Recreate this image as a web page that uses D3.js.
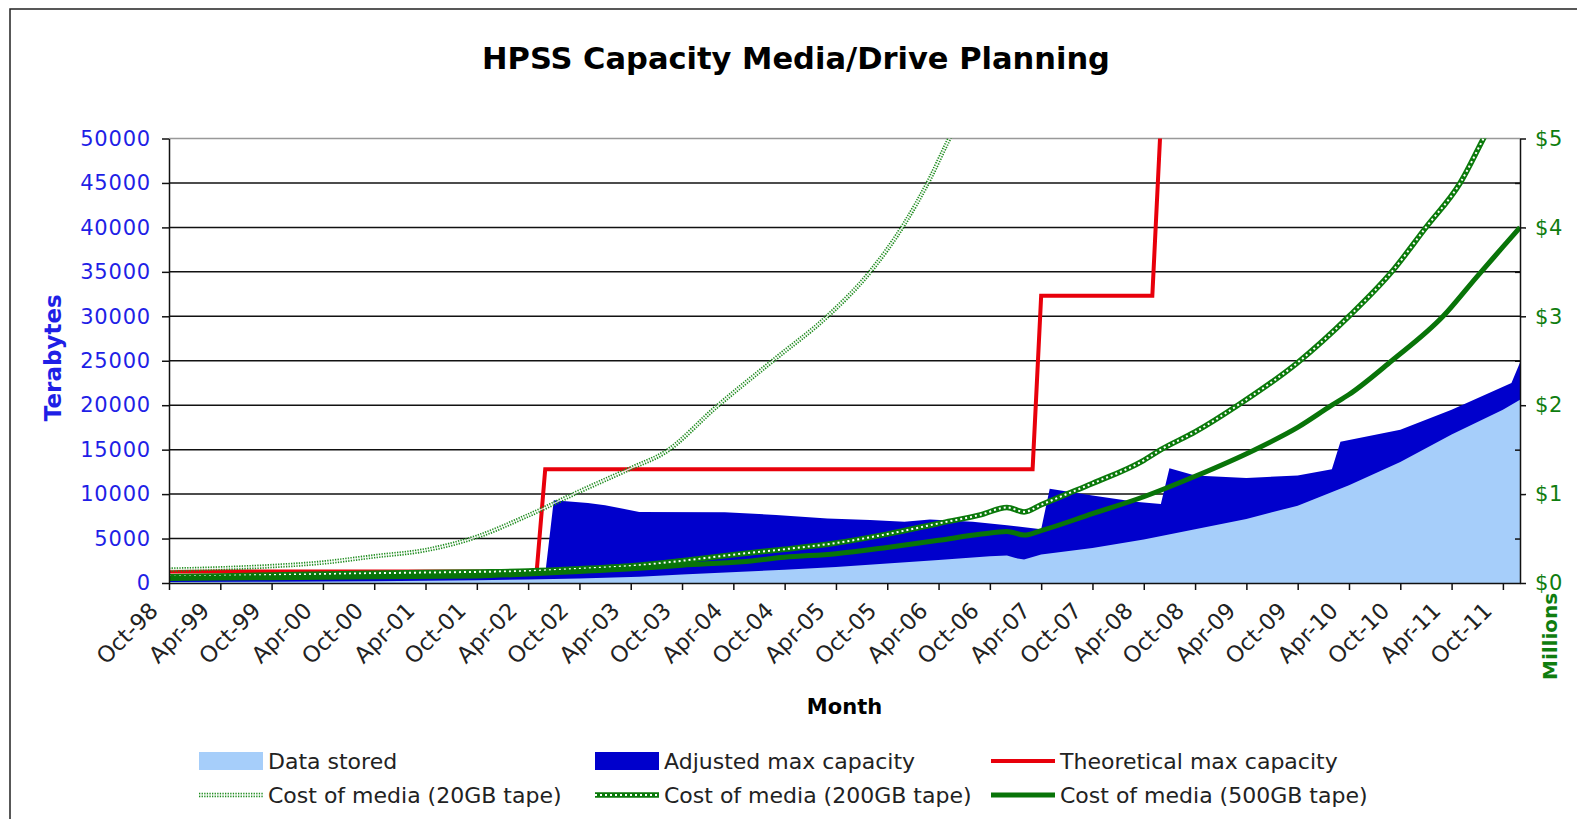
<!DOCTYPE html>
<html>
<head>
<meta charset="utf-8">
<script src="https://cdn.jsdelivr.net/npm/d3@7"></script>
<style>
  body { margin: 0; background: #fff; }
  svg { display: block; }
  svg text { font-family: 'DejaVu Sans', Verdana, sans-serif; }
</style>
</head>
<body>
<div id="chart"></div>
<script>
const WIDTH = 1577;
const HEIGHT = 819;
const LEFT = 169;
const RIGHT = 1520;
const TOP = 138.5;
const BOTTOM = 583;
const LAST_MONTH = 158;

// month index 0 = Oct-98, one point per month up to Dec-11
const tickLabels = [
  'Oct-98', 'Apr-99', 'Oct-99', 'Apr-00', 'Oct-00', 'Apr-01', 'Oct-01',
  'Apr-02', 'Oct-02', 'Apr-03', 'Oct-03', 'Apr-04', 'Oct-04', 'Apr-05',
  'Oct-05', 'Apr-06', 'Oct-06', 'Apr-07', 'Oct-07', 'Apr-08', 'Oct-08',
  'Apr-09', 'Oct-09', 'Apr-10', 'Oct-10', 'Apr-11', 'Oct-11'
];
const tickMonths = [0, 6, 12, 18, 24, 30, 36, 42, 48, 54, 60, 66, 72, 78,
  84, 90, 96, 102, 108, 114, 120, 126, 132, 138, 144, 150, 156];
const terabyteTicks = [0, 5000, 10000, 15000, 20000, 25000, 30000, 35000, 40000, 45000, 50000];
const dollarTicks = [0, 1, 2, 3, 4, 5];
const dollarMinorTicks = [0.5, 1.5, 2.5, 3.5, 4.5];

// terabytes, [month, value]
const dataStored = [[0, 100], [12, 150], [24, 200], [36, 300], [42, 400], [48, 500],
  [55, 700], [60, 950], [67, 1270], [72, 1500], [78, 1800], [84, 2200], [90, 2600],
  [96, 3000], [98, 3100], [99, 2800], [100, 2650], [102, 3200], [108, 3950],
  [114, 4900], [120, 6050], [126, 7200], [132, 8700], [138, 11000], [144, 13600],
  [150, 16700], [156, 19500], [158, 20600]];

const adjustedMax = [[0, 800], [44, 1000], [45, 9300], [49, 9000], [51, 8750],
  [55, 8000], [65, 7950], [71, 7650], [77, 7250], [82, 7100], [86, 6900], [89, 7150],
  [94, 6900], [98, 6500], [102, 6050], [103, 10600], [108, 9850], [113, 9150],
  [116, 8900], [117, 12900], [120, 12100], [126, 11800], [132, 12100], [136, 12800],
  [137, 15900], [144, 17250], [150, 19500], [157, 22500], [158, 24800]];

const theoreticalMax = [[0, 1300], [43, 1300], [44, 12800], [101, 12800],
  [102, 32300], [115, 32300], [116, 52000], [158, 52000]];

// millions of dollars, [month, value]
const cost20GB = [[0, 0.15], [6, 0.165], [12, 0.19], [18, 0.23], [24, 0.30],
  [30, 0.37], [36, 0.52], [42, 0.76], [48, 1.03], [54, 1.29], [58, 1.47], [64, 1.98],
  [71, 2.53], [77, 3.0], [82, 3.5], [86, 4.04], [89, 4.55], [91, 4.95], [94, 5.5]];

const cost200GB = [[0, 0.07], [12, 0.09], [24, 0.11], [36, 0.125], [42, 0.135],
  [48, 0.16], [55, 0.20], [60, 0.25], [67, 0.33], [72, 0.38], [78, 0.45], [84, 0.55],
  [90, 0.67], [95, 0.77], [98, 0.85], [100, 0.80], [102, 0.88], [105, 1.0], [108, 1.12],
  [114, 1.38], [116, 1.5], [120, 1.7], [125, 2.0], [132, 2.48], [138, 3.0], [143, 3.5],
  [147, 4.0], [151, 4.5], [154, 5.05], [156, 5.4]];

const cost500GB = [[0, 0.05], [12, 0.06], [24, 0.07], [36, 0.08], [42, 0.10],
  [48, 0.13], [55, 0.165], [60, 0.2], [67, 0.24], [72, 0.29], [78, 0.33], [84, 0.40],
  [90, 0.48], [95, 0.55], [98, 0.58], [100, 0.54], [102, 0.59], [108, 0.78],
  [114, 0.97], [120, 1.2], [127, 1.5], [132, 1.75], [136, 2.0], [138, 2.12],
  [143, 2.5], [149, 3.0], [153, 3.45], [156, 3.78], [158, 4.0]];

const legendRows = [
  ['Data stored', 'Adjusted max capacity', 'Theoretical max capacity'],
  ['Cost of media (20GB tape)', 'Cost of media (200GB tape)', 'Cost of media (500GB tape)']
];

const COLORS = {
  stored: '#a6cefa',
  adjusted: '#0000cc',
  theoretical: '#e8000b',
  cost20: '#1f8c1f',
  cost200: '#0b7a0b',
  cost500: '#087408',
  leftText: '#1f1fe6',
  rightText: '#0f7d0f'
};

let svg, x, yLeft, yRight;

function buildScales() {
  x = d3.scaleLinear().domain([0, LAST_MONTH]).range([LEFT, RIGHT]);
  yLeft = d3.scaleLinear().domain([0, 50000]).range([BOTTOM, TOP]);
  yRight = d3.scaleLinear().domain([0, 5]).range([BOTTOM, TOP]);
}

function drawFrame() {
  svg.append('rect')
    .attr('x', 10).attr('y', 9)
    .attr('width', 1620).attr('height', 900)
    .attr('fill', 'none')
    .attr('stroke', '#222')
    .attr('stroke-width', 1.5);

  svg.append('text')
    .attr('x', 796).attr('y', 69)
    .attr('text-anchor', 'middle')
    .style('font-size', '30.5px')
    .style('font-weight', 'bold')
    .text('HPSS Capacity Media/Drive Planning');
}

function drawGrid() {
  svg.append('g')
    .attr('class', 'grid')
    .selectAll('line')
    .data(terabyteTicks.filter((t) => t > 0))
    .enter()
    .append('line')
    .attr('x1', LEFT).attr('x2', RIGHT)
    .attr('y1', (d) => yLeft(d)).attr('y2', (d) => yLeft(d))
    .attr('stroke', (d) => d === 50000 ? '#999' : '#111')
    .attr('stroke-width', 1.5);
}

function drawSeries() {
  svg.append('clipPath')
    .attr('id', 'plotClip')
    .append('rect')
    .attr('x', LEFT).attr('y', TOP)
    .attr('width', RIGHT - LEFT).attr('height', BOTTOM - TOP);

  let plot = svg.append('g').attr('clip-path', 'url(#plotClip)');

  let area = d3.area()
    .x((d) => x(d[0]))
    .y0(yLeft(0))
    .y1((d) => yLeft(d[1]));

  plot.append('path').datum(adjustedMax)
    .attr('d', area).attr('fill', COLORS.adjusted);
  plot.append('path').datum(dataStored)
    .attr('d', area).attr('fill', COLORS.stored);

  let leftLine = d3.line().x((d) => x(d[0])).y((d) => yLeft(d[1]));
  let rightLine = d3.line()
    .x((d) => x(d[0])).y((d) => yRight(d[1]))
    .curve(d3.curveMonotoneX);

  plot.append('path').datum(theoreticalMax)
    .attr('d', leftLine)
    .attr('fill', 'none')
    .attr('stroke', COLORS.theoretical)
    .attr('stroke-width', 4);

  // 20GB: thin double row of dots
  plot.append('path').datum(cost20GB)
    .attr('d', rightLine)
    .attr('fill', 'none')
    .attr('stroke', COLORS.cost20)
    .attr('stroke-width', 4.5)
    .attr('stroke-dasharray', '1.3,1.3');
  plot.append('path').datum(cost20GB)
    .attr('d', rightLine)
    .attr('fill', 'none')
    .attr('stroke', '#fff')
    .attr('stroke-width', 1.3)
    .attr('opacity', 0.8);

  // 200GB: thick with hollow markers
  plot.append('path').datum(cost200GB)
    .attr('d', rightLine)
    .attr('fill', 'none')
    .attr('stroke', COLORS.cost200)
    .attr('stroke-width', 5.5);
  plot.append('path').datum(cost200GB)
    .attr('d', rightLine)
    .attr('fill', 'none')
    .attr('stroke', '#fff')
    .attr('stroke-width', 2)
    .attr('stroke-dasharray', '2,3');

  plot.append('path').datum(cost500GB)
    .attr('d', rightLine)
    .attr('fill', 'none')
    .attr('stroke', COLORS.cost500)
    .attr('stroke-width', 5);
}

function styleAxis(g) {
  g.selectAll('path, line')
    .attr('stroke', '#111')
    .attr('stroke-width', 1.5);
}

function drawAxes() {
  let leftAxis = d3.axisLeft(yLeft)
    .tickValues(terabyteTicks)
    .tickFormat(d3.format('d'))
    .tickSize(7)
    .tickSizeOuter(0)
    .tickPadding(11);

  let gl = svg.append('g')
    .attr('class', 'leftAxis')
    .attr('transform', `translate(${LEFT}, 0)`)
    .call(leftAxis);
  styleAxis(gl);
  gl.selectAll('text')
    .attr('fill', COLORS.leftText)
    .style('font-size', '21px')
    .style('letter-spacing', '0.8px');

  let rightAxis = d3.axisRight(yRight)
    .tickValues(dollarTicks)
    .tickFormat((d) => '$' + d)
    .tickSize(6)
    .tickSizeOuter(0)
    .tickPadding(9);

  let gr = svg.append('g')
    .attr('class', 'rightAxis')
    .attr('transform', `translate(${RIGHT}, 0)`)
    .call(rightAxis);
  styleAxis(gr);
  gr.selectAll('text')
    .attr('fill', COLORS.rightText)
    .style('font-size', '21px')
    .style('letter-spacing', '0.6px');

  let minor = svg.append('g')
    .attr('transform', `translate(${RIGHT}, 0)`)
    .call(d3.axisRight(yRight).tickValues(dollarMinorTicks).tickSize(-5).tickSizeOuter(0).tickFormat(''));
  styleAxis(minor);
  minor.select('.domain').remove();

  let bottomAxis = d3.axisBottom(x)
    .tickValues(tickMonths)
    .tickFormat((d, i) => tickLabels[i])
    .tickSize(7)
    .tickSizeOuter(0);

  let gb = svg.append('g')
    .attr('class', 'bottomAxis')
    .attr('transform', `translate(0, ${BOTTOM})`)
    .call(bottomAxis);
  styleAxis(gb);
  gb.selectAll('text')
    .attr('fill', '#222')
    .attr('text-anchor', 'end')
    .attr('y', 0)
    .attr('dy', 0)
    .attr('transform', 'translate(-10, 29) rotate(-45)')
    .style('font-size', '22.5px');

  svg.append('text')
    .attr('transform', `translate(61, ${(TOP + BOTTOM) / 2 - 3}) rotate(-90)`)
    .attr('text-anchor', 'middle')
    .attr('fill', COLORS.leftText)
    .style('font-size', '23px')
    .style('font-weight', 'bold')
    .text('Terabytes');

  svg.append('text')
    .attr('transform', `translate(1557, 680) rotate(-90)`)
    .attr('text-anchor', 'start')
    .attr('fill', COLORS.rightText)
    .style('font-size', '20px')
    .style('font-weight', 'bold')
    .text('Millions');

  svg.append('text')
    .attr('x', (LEFT + RIGHT) / 2).attr('y', 714)
    .attr('text-anchor', 'middle')
    .style('font-size', '21px')
    .style('font-weight', 'bold')
    .text('Month');
}

function drawLegend() {
  let colX = [199, 595, 991];
  let rowY = [761, 795];
  let swatchW = 64;
  let legend = svg.append('g').attr('class', 'legend');

  legendRows.forEach((row, r) => {
    row.forEach((label, c) => {
      let sx = colX[c];
      let sy = rowY[r];
      let key = r * 3 + c;

      if (key === 0 || key === 1) {
        legend.append('rect')
          .attr('x', sx).attr('y', sy - 9)
          .attr('width', swatchW).attr('height', 18)
          .attr('fill', key === 0 ? COLORS.stored : COLORS.adjusted);
      } else if (key === 2) {
        legend.append('line')
          .attr('x1', sx).attr('x2', sx + swatchW)
          .attr('y1', sy).attr('y2', sy)
          .attr('stroke', COLORS.theoretical).attr('stroke-width', 4);
      } else if (key === 3) {
        legend.append('line')
          .attr('x1', sx).attr('x2', sx + swatchW)
          .attr('y1', sy).attr('y2', sy)
          .attr('stroke', COLORS.cost20).attr('stroke-width', 4.5)
          .attr('stroke-dasharray', '1.3,1.3');
        legend.append('line')
          .attr('x1', sx).attr('x2', sx + swatchW)
          .attr('y1', sy).attr('y2', sy)
          .attr('stroke', '#fff').attr('stroke-width', 1.3).attr('opacity', 0.8);
      } else if (key === 4) {
        legend.append('line')
          .attr('x1', sx).attr('x2', sx + swatchW)
          .attr('y1', sy).attr('y2', sy)
          .attr('stroke', COLORS.cost200).attr('stroke-width', 5.5);
        legend.append('line')
          .attr('x1', sx).attr('x2', sx + swatchW)
          .attr('y1', sy).attr('y2', sy)
          .attr('stroke', '#fff').attr('stroke-width', 2)
          .attr('stroke-dasharray', '2,3');
      } else {
        legend.append('line')
          .attr('x1', sx).attr('x2', sx + swatchW)
          .attr('y1', sy).attr('y2', sy)
          .attr('stroke', COLORS.cost500).attr('stroke-width', 5);
      }

      legend.append('text')
        .attr('x', sx + swatchW + 5).attr('y', sy)
        .attr('dy', '0.36em')
        .attr('fill', '#222')
        .style('font-size', '22px')
        .text(label);
    });
  });
}

function buildChart(selector) {
  svg = d3.select(selector).append('svg')
    .attr('width', WIDTH)
    .attr('height', HEIGHT);

  buildScales();
  drawFrame();
  drawGrid();
  drawSeries();
  drawAxes();
  drawLegend();
}

buildChart('#chart');
</script>
</body>
</html>
